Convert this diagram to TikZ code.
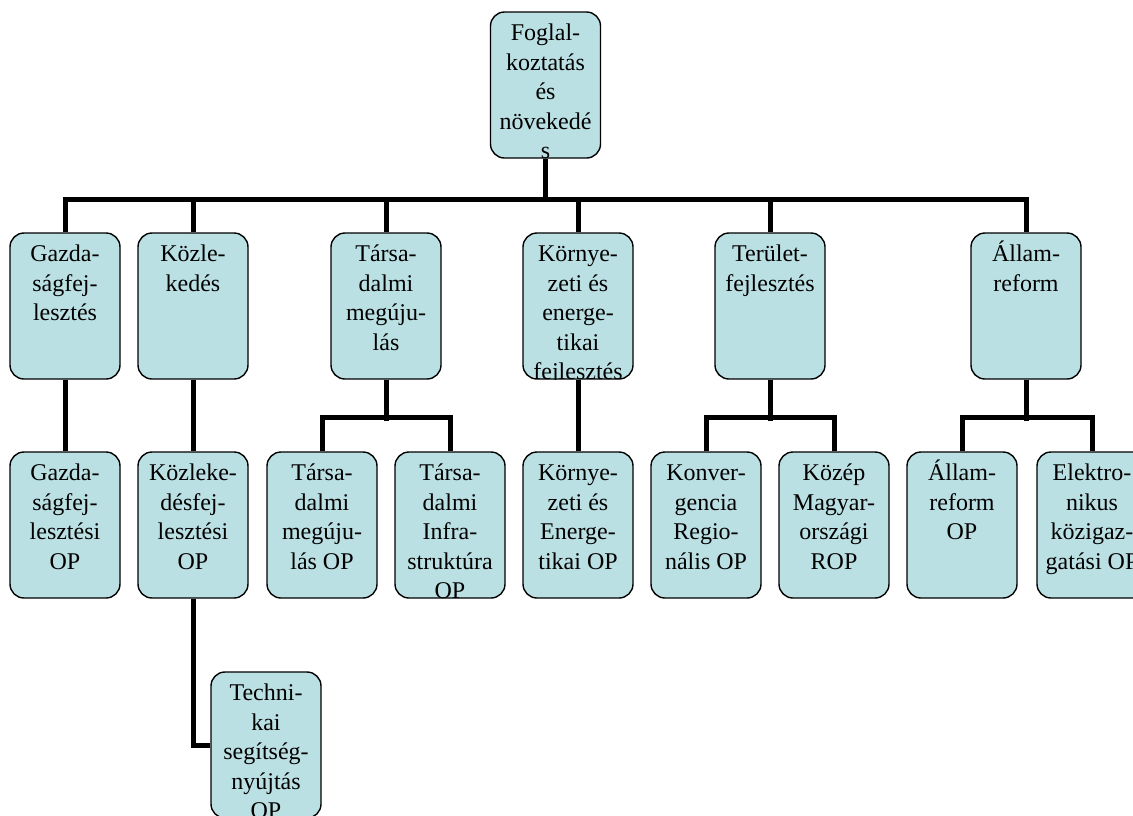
\documentclass[tikz,border=0pt]{standalone}
\usepackage{fontspec}
\setmainfont{Liberation Serif}
\usetikzlibrary{positioning}
\definecolor{boxfill}{HTML}{BBE0E3}

\begin{document}
\begin{tikzpicture}[x=1pt, y=-1pt,
	box/.style={draw, line width=1.4pt, fill=boxfill, rounded corners=14pt,
		minimum width=110pt, minimum height=146pt, inner sep=0pt,
		path picture={\node[boxtext] at ([yshift=-7.5pt]path picture bounding box.north) {\strut #1};}},
	boxtext/.style={anchor=north, inner sep=0pt, minimum width=0pt, minimum height=0pt,
		align=center, font=\fontsize{24}{29.5}\selectfont},
	conn/.style={line width=5pt}]
	\useasboundingbox (0,0) rectangle (1133,815);
	% top
	\node (foglal) at (545.5,85) [box={Foglal-\\koztatás\\és\\növekedé\\s}] {};
	% second row
	\node (gazda)   at (65,306)   [box={Gazda-\\ságfej-\\lesztés}] {};
	\node (kozle)   at (193,306)  [box={Közle-\\kedés}] {};
	\node (tarsa)   at (386,306)  [box={Társa-\\dalmi\\megúju-\\lás}] {};
	\node (kornye)  at (578,306)  [box={Környe-\\zeti és\\energe-\\tikai\\fejlesztés}] {};
	\node (terulet) at (770,306)  [box={Terület-\\fejlesztés}] {};
	\node (allam)   at (1026,306) [box={Állam-\\reform}] {};
	% third row
	\node (gazdaop)   at (65,525)   [box={Gazda-\\ságfej-\\lesztési\\OP}] {};
	\node (kozleop)   at (193,525)  [box={Közleke-\\désfej-\\lesztési\\OP}] {};
	\node (tarsaop)   at (322,525)  [box={Társa-\\dalmi\\megúju-\\lás OP}] {};
	\node (tarsainf)  at (450,525)  [box={Társa-\\dalmi\\Infra-\\struktúra\\OP}] {};
	\node (kornyeop)  at (578,525)  [box={Környe-\\zeti és\\Energe-\\tikai OP}] {};
	\node (konver)    at (706,525)  [box={Konver-\\gencia\\Regio-\\nális OP}] {};
	\node (kozep)     at (834,525)  [box={Közép\\Magyar-\\országi\\ROP}] {};
	\node (allamop)   at (962,525)  [box={Állam-\\reform\\OP}] {};
	\node (elektro)   at (1092,525) [box={Elektro-\\nikus\\közigaz-\\gatási OP}] {};
	% fourth row
	\node (techni) at (266,745) [box={Techni-\\kai\\segítség-\\nyújtás\\OP}] {};

	\coordinate (bar) at (545.5,199);
	\draw[conn] (foglal.south) -- (bar);
	\draw[conn] (gazda.north) |- (bar) -| (allam.north);
	\draw[conn] (kozle.north) -- (kozle.north |- bar);
	\draw[conn] (tarsa.north) -- (tarsa.north |- bar);
	\draw[conn] (kornye.north) -- (kornye.north |- bar);
	\draw[conn] (terulet.north) -- (terulet.north |- bar);

	\draw[conn] (gazda) -- (gazdaop);
	\draw[conn] (kozle) -- (kozleop);
	\draw[conn] (kornye) -- (kornyeop);
	\draw[conn] (tarsa.south) -- ++(0,41);
	\draw[conn] (tarsaop.north) -- ++(0,-34) -| (tarsainf.north);
	\draw[conn] (terulet.south) -- ++(0,41);
	\draw[conn] (konver.north) -- ++(0,-34) -| (kozep.north);
	\draw[conn] (allam.south) -- ++(0,41);
	\draw[conn] (allamop.north) -- ++(0,-34) -| (elektro.north);
	\draw[conn] (kozleop.south) |- (techni.west);
\end{tikzpicture}
\end{document}
